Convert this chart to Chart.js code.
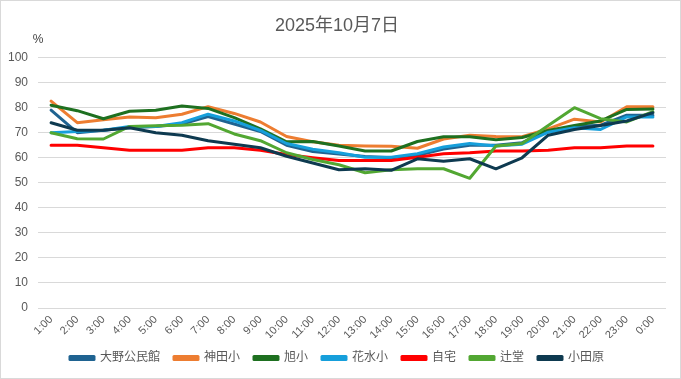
<!DOCTYPE html>
<html>
<head>
<meta charset="utf-8">
<script src="https://cdn.jsdelivr.net/npm/chart.js@4/dist/chart.umd.min.js"></script>
<style>
  html, body { margin: 0; padding: 0; background: #fff; }
  #wrap { width: 681px; height: 379px; position: relative; }
</style>
</head>
<body>
<div id="wrap"><canvas id="c" width="681" height="379"></canvas></div>
<script>
const titleText = '2025年10月7日';
const unitLabel = '%';
const hours = ['1:00','2:00','3:00','4:00','5:00','6:00','7:00','8:00','9:00','10:00','11:00','12:00',
               '13:00','14:00','15:00','16:00','17:00','18:00','19:00','20:00','21:00','22:00','23:00','0:00'];
const seriesNames = ['大野公民館','神田小','旭小','花水小','自宅','辻堂','小田原'];
const yTicks = [0,10,20,30,40,50,60,70,80,90,100];

const oono   = [79,70,71,72,72.5,73.5,76.5,73.5,70.5,65,62.5,61.5,60.5,60,61,63.5,65,65,66,70.5,72.5,73,77,77];
const kanda  = [82.6,74,75.2,76.3,76,77.4,80.4,77.7,74.3,68.5,66.4,65,64.7,64.6,63.8,67.5,69,68.5,68.4,71.5,75.4,74.3,80.4,80.4];
const asahi  = [81,78.8,75.6,78.6,79,80.7,79.7,76,71.5,66.4,66.5,64.7,62.7,62.7,66.5,68.4,68.4,67.2,68.1,70.9,72.9,74.7,79.3,79.5];
const hanamizu = [70,70.5,71,72.5,72.5,74,77.4,74.7,70.9,65.7,63.4,62,60.2,60.2,61.6,64.3,65.7,64.7,65.4,70.2,72,71.3,76.3,76.3];
const jitaku = [65,65,64,63,63,63,64,64,63,61.3,60,58.9,58.9,58.9,60.2,61.6,62,62.7,62.7,63,64,64,64.7,64.7];
const tsujido = [70,67.6,67.5,72.5,72.8,73,73.6,69.5,66.8,62,59.3,57.2,54,55.2,55.6,55.6,51.8,64.7,65.7,72.9,80,75.6,74.3,78.4];
const odawara = [74,71,71,72,70,69,66.8,65.4,64,60.6,57.9,55.2,55.6,55,59.6,58.6,59.6,55.6,60,69,71.3,72.9,74.7,78];

const seriesValues = [oono, kanda, asahi, hanamizu, jitaku, tsujido, odawara];
const seriesColors = ['#1F6391','#ED7D31','#1E7020','#169FDB','#FF0000','#52A732','#0E3A50'];

const FONT = '"Liberation Sans", "Noto Sans CJK JP", sans-serif';
const TXT = '#595959';

const datasets = seriesNames.map((name, i) => ({
  label: name,
  data: seriesValues[i],
  borderColor: seriesColors[i],
  backgroundColor: seriesColors[i],
  borderWidth: 3,
  pointRadius: 0,
  pointHoverRadius: 0,
  tension: 0,
  fill: false,
  borderJoinStyle: 'round',
  borderCapStyle: 'round',
  order: seriesNames.length - i
}));

const extras = {
  id: 'extras',
  afterDraw(chart) {
    const ctx = chart.ctx;
    ctx.save();
    ctx.fillStyle = '#404040';
    ctx.font = '12px ' + FONT;
    ctx.textAlign = 'center';
    ctx.textBaseline = 'middle';
    ctx.fillText(unitLabel, 38, 40);
    ctx.strokeStyle = '#D9D9D9';
    ctx.lineWidth = 1;
    ctx.strokeRect(0.5, 0.5, 680, 378);
    ctx.restore();
  }
};

new Chart(document.getElementById('c'), {
  type: 'line',
  data: { labels: hours, datasets },
  options: {
    responsive: false,
    animation: false,
    events: [],
    layout: { padding: { left: 8, right: 15, top: 0, bottom: 5 } },
    plugins: {
      title: {
        display: true,
        text: titleText,
        color: TXT,
        font: { family: FONT, size: 18, weight: 'normal' },
        padding: { top: 15, bottom: 21 }
      },
      legend: {
        position: 'bottom',
        labels: {
          boxWidth: 24,
          boxHeight: 3,
          padding: 14,
          color: TXT,
          font: { family: FONT, size: 12 },
          sort: (a, b) => a.datasetIndex - b.datasetIndex
        }
      },
      tooltip: { enabled: false }
    },
    scales: {
      x: {
        offset: true,
        grid: { display: false, drawTicks: false },
        border: { display: false },
        ticks: {
          autoSkip: false,
          maxRotation: 45,
          minRotation: 45,
          padding: 5,
          color: TXT,
          font: { family: FONT, size: 11 }
        },
        afterFit(scale) { scale.height = 30; }
      },
      y: {
        min: 0,
        max: 100,
        afterBuildTicks(scale) { scale.ticks = yTicks.map(v => ({ value: v })); },
        grid: { color: '#D9D9D9', lineWidth: 1, drawTicks: false },
        border: { display: false },
        ticks: {
          padding: 10,
          color: TXT,
          font: { family: FONT, size: 12 }
        },
        afterFit(scale) { scale.width = 30; }
      }
    }
  },
  plugins: [extras]
});
</script>
</body>
</html>
